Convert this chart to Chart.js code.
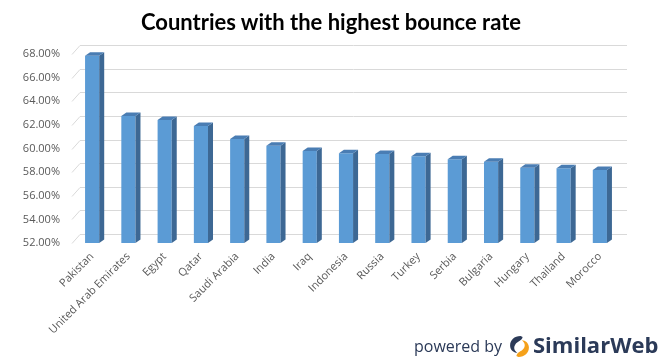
<!DOCTYPE html>
<html>
<head>
<meta charset="utf-8">
<script src="https://cdn.jsdelivr.net/npm/chart.js@4/dist/chart.umd.min.js"></script>
<style>
  html, body { margin: 0; padding: 0; background: #fff; }
  #wrap { position: relative; width: 658px; height: 361px; overflow: hidden; }
  canvas { position: absolute; left: 0; top: 0; }
  #title { position: absolute; left: 0; top: 8px; width: 662px; text-align: center;
    font-family: Lato, "Open Sans", sans-serif; font-weight: 700; font-size: 22px; color: #000; }
  #footer { position: absolute; left: 414px; top: 333px; height: 26px; white-space: nowrap; color: #2b3a58; }
  #footer .pb { font-family: "Open Sans", sans-serif; font-size: 16px; position: absolute; left: 0; top: 2px; }
  #footer svg { position: absolute; left: 94px; top: 2px; }
  #footer .sw { font-family: "Open Sans", sans-serif; font-weight: 700; font-size: 22px; position: absolute; left: 119px; top: -4px; letter-spacing: 0px; }
</style>
</head>
<body>
<div id="wrap">
  <canvas id="c" width="658" height="361"></canvas>
  <div id="title">Countries with the highest bounce rate</div>
  <div id="footer">
    <span class="pb">powered by</span>
    <svg width="23" height="23" viewBox="0 0 22 22">
      <path d="M12 1 C6 1 2 5 2 10 C2 14 5 17 9 17 C6 15 5 12 7 9 C9 6 13 6 14 2 Z" fill="#2b3a58"/>
      <path d="M10 21 C16 21 20 17 20 12 C20 8 17 5 13 5 C16 7 17 10 15 13 C13 16 9 16 8 20 Z" fill="#f5a11a"/>
    </svg>
    <span class="sw">SimilarWeb</span>
  </div>
</div>
<script>
const categories = ["Pakistan", "United Arab Emirates", "Egypt", "Qatar", "Saudi Arabia", "India", "Iraq", "Indonesia", "Russia", "Turkey", "Serbia", "Bulgaria", "Hungary", "Thailand", "Morocco"];
const bounceRate = [67.86, 62.75, 62.41, 61.91, 60.81, 60.24, 59.79, 59.60, 59.54, 59.35, 59.09, 58.88, 58.38, 58.33, 58.18];
const yTicks = [52, 54, 56, 58, 60, 62, 64, 66, 68];

const DX = 5, DY = 3.5;       // bar depth
const WDX = 8, WDY = 9;       // back wall offset

const threeD = {
  id: 'threeD',
  beforeDatasetsDraw(chart) {
    const ctx = chart.ctx, y = chart.scales.y, a = chart.chartArea;
    ctx.save();
    ctx.strokeStyle = '#d9d9d9';
    ctx.lineWidth = 1;
    yTicks.forEach(v => {
      const py = Math.round(y.getPixelForValue(v)) + 0.5;
      ctx.beginPath();
      ctx.moveTo(a.left - 2, py);
      ctx.lineTo(a.left - 2 + WDX, py - WDY);
      ctx.lineTo(a.right + 9, py - WDY);
      ctx.stroke();
    });
    ctx.restore();
  },
  afterDatasetsDraw(chart) {
    const ctx = chart.ctx, a = chart.chartArea;
    const meta = chart.getDatasetMeta(0);
    ctx.save();
    meta.data.forEach(bar => {
      const p = bar.getProps(['x', 'y', 'width', 'base'], true);
      const base = Math.min(p.base, a.bottom);
      const l = p.x - p.width / 2, r = p.x + p.width / 2;
      // side face
      ctx.fillStyle = '#3d6894';
      ctx.beginPath();
      ctx.moveTo(r, p.y);
      ctx.lineTo(r + DX, p.y - DY);
      ctx.lineTo(r + DX, base - DY);
      ctx.lineTo(r, base);
      ctx.closePath();
      ctx.fill();
      // top face
      ctx.fillStyle = '#4a7db3';
      ctx.beginPath();
      ctx.moveTo(l, p.y);
      ctx.lineTo(l + DX, p.y - DY);
      ctx.lineTo(r + DX, p.y - DY);
      ctx.lineTo(r, p.y);
      ctx.closePath();
      ctx.fill();
    });
    ctx.restore();
  }
};

new Chart(document.getElementById('c'), {
  type: 'bar',
  data: {
    labels: categories,
    datasets: [{
      data: bounceRate,
      backgroundColor: '#5b9bd5',
      borderWidth: 0,
      categoryPercentage: 1,
      barPercentage: 0.39
    }]
  },
  options: {
    responsive: false,
    animation: false,
    devicePixelRatio: 1,
    layout: { padding: { left: 0, right: 40, top: 54, bottom: 0 } },
    plugins: { legend: { display: false }, title: { display: false }, tooltip: { enabled: false } },
    scales: {
      x: {
        grid: { display: false, drawTicks: false },
        border: { display: false },
        ticks: {
          color: '#595959',
          font: { family: "'Open Sans', sans-serif", size: 11 },
          maxRotation: 45, minRotation: 45, autoSkip: false, padding: 7
        },
        afterFit(s) { s.height = 118; }
      },
      y: {
        min: 52, max: 68,
        grid: { display: false, drawTicks: false },
        border: { display: false },
        afterBuildTicks(s) { s.ticks = yTicks.map(v => ({ value: v })); },
        ticks: {
          color: '#595959',
          font: { family: "'Open Sans', sans-serif", size: 11 },
          padding: 14,
          callback: v => v.toFixed(2) + '%'
        },
        afterFit(s) { s.width = 74; }
      }
    }
  },
  plugins: [threeD]
});
</script>
</body>
</html>
